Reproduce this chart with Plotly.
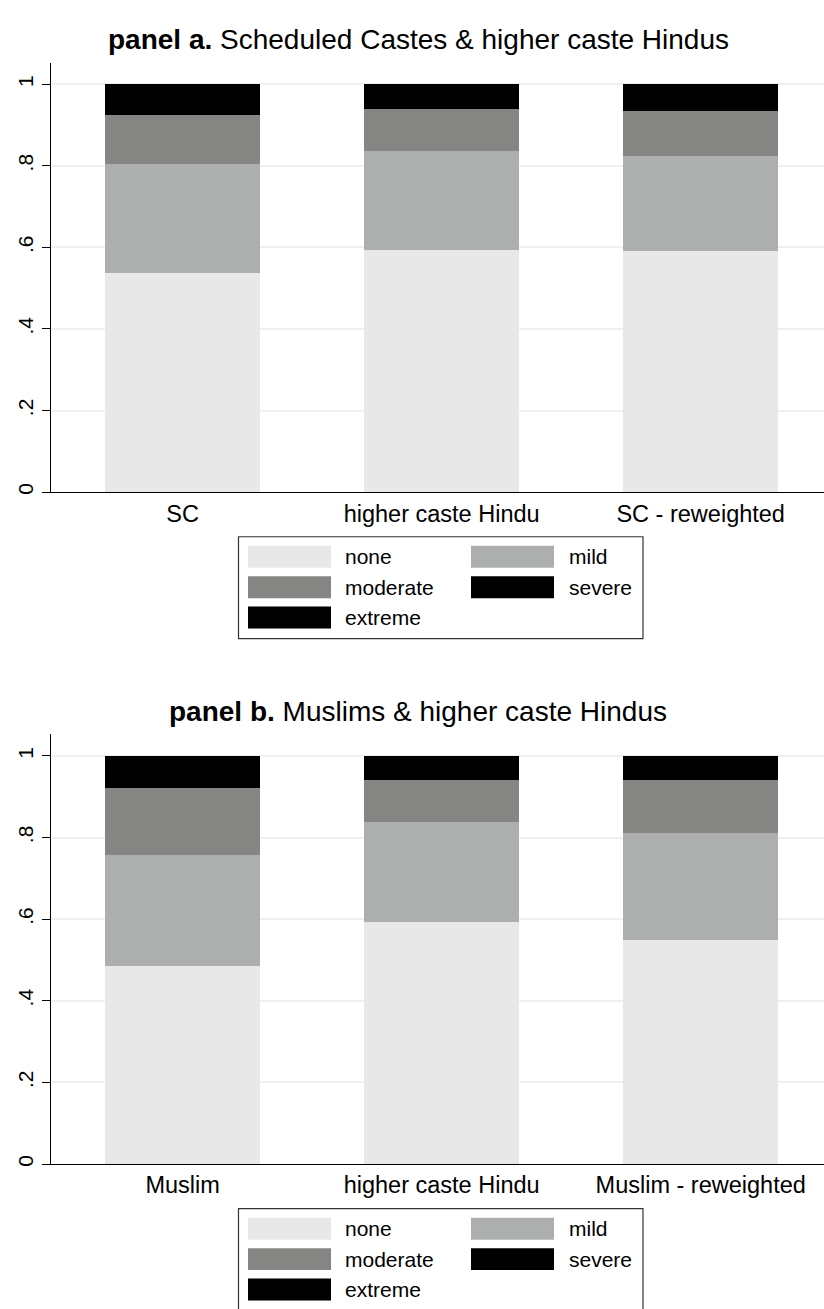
import plotly.graph_objects as go

# ---- data ----
categories_a = ["SC", "higher caste Hindu", "SC - reweighted"]
categories_b = ["Muslim", "higher caste Hindu", "Muslim - reweighted"]
series_names = ["none", "mild", "moderate", "severe", "extreme"]
series_colors = ["#e8e8e8", "#adafae", "#858583", "#000000", "#000000"]

none_a = [0.536, 0.593, 0.590]
mild_a = [0.269, 0.244, 0.235]
moderate_a = [0.120, 0.102, 0.110]
severe_a = [0.060, 0.049, 0.052]
extreme_a = [0.015, 0.012, 0.013]

none_b = [0.486, 0.594, 0.548]
mild_b = [0.271, 0.243, 0.263]
moderate_b = [0.165, 0.103, 0.131]
severe_b = [0.062, 0.048, 0.046]
extreme_b = [0.016, 0.012, 0.012]

ytick_vals = [0, 0.2, 0.4, 0.6, 0.8, 1]
ytick_text = ["0", ".2", ".4", ".6", ".8", "1"]

title_a_bold = "panel a."
title_a_rest = " Scheduled Castes & higher caste Hindus"
title_b_bold = "panel b."
title_b_rest = " Muslims & higher caste Hindus"

# ---- layout helpers ----
W, H = 824, 1309
FONT = "Liberation Sans, Arial, Helvetica, sans-serif"


def px(x):
    return x / W


def py(y):
    return 1 - y / H


fig = go.Figure()

panels = [
    (categories_a, [none_a, mild_a, moderate_a, severe_a, extreme_a], "x", "y"),
    (categories_b, [none_b, mild_b, moderate_b, severe_b, extreme_b], "x2", "y2"),
]
for cats, vals, xa, ya in panels:
    for name, color, v in zip(series_names, series_colors, vals):
        fig.add_trace(go.Bar(
            x=cats, y=v, name=name, marker=dict(color=color, line=dict(width=0)),
            xaxis=xa, yaxis=ya, width=0.6, showlegend=False,
        ))

# panel vertical positions (pixels): plot top, plot bottom
panel_px = [(62.7, 493.3), (736.0, 1166.7)]

common_y = dict(
    range=[0, 1.053], tickvals=ytick_vals, ticktext=ytick_text, tickangle=-90,
    ticks="outside", ticklen=8, tickwidth=1.2, tickcolor="#000000",
    showline=True, linecolor="#000000", linewidth=1.3,
    showgrid=True, gridcolor="#f0f0f0", gridwidth=1.5, zeroline=False,
    tickfont=dict(family=FONT, size=21, color="#000000"), fixedrange=True,
)
common_x = dict(
    range=[-0.508, 2.476], showline=True, linecolor="#000000", linewidth=1.3,
    ticks="", showgrid=False, zeroline=False,
    tickfont=dict(family=FONT, size=23.5, color="#000000"), fixedrange=True,
)

fig.update_layout(
    width=W, height=H, margin=dict(l=0, r=0, t=0, b=0),
    paper_bgcolor="white", plot_bgcolor="white", barmode="stack",
    showlegend=False,
    xaxis=dict(domain=[px(51), 1], anchor="y", **common_x),
    yaxis=dict(domain=[py(panel_px[0][1]), py(panel_px[0][0])], anchor="x", **common_y),
    xaxis2=dict(domain=[px(51), 1], anchor="y2", **common_x),
    yaxis2=dict(domain=[py(panel_px[1][1]), py(panel_px[1][0])], anchor="x2", **common_y),
)

# titles
for (bold, rest), ty in [((title_a_bold, title_a_rest), 40), ((title_b_bold, title_b_rest), 713.5)]:
    fig.add_annotation(
        x=px(418), y=py(ty), xref="paper", yref="paper", showarrow=False,
        text=f"<b>{bold}</b>{rest}", xanchor="center", yanchor="middle",
        font=dict(family=FONT, size=28, color="#000000"),
    )

# legends (drawn as boxes)
for off in [0, 673.5]:
    fig.add_shape(type="rect", xref="paper", yref="paper",
                  x0=px(238.5), x1=px(643), y0=py(538 + off), y1=py(640 + off),
                  line=dict(color="#333333", width=1.2), fillcolor="white")
    for i, (name, color) in enumerate(zip(series_names, series_colors)):
        row, col = divmod(i, 2)
        sx = 248 if col == 0 else 471
        tx = 343 if col == 0 else 567
        cy = 558 + row * 30.5 + off
        fig.add_shape(type="rect", xref="paper", yref="paper",
                      x0=px(sx), x1=px(sx + 83), y0=py(cy - 11), y1=py(cy + 11),
                      line=dict(width=0), fillcolor=color)
        fig.add_annotation(x=px(tx), y=py(cy), xref="paper", yref="paper",
                           showarrow=False, text=name, xanchor="left", yanchor="middle",
                           font=dict(family=FONT, size=21, color="#000000"))

fig.write_html("out.html", config={"displayModeBar": False},
               post_script="document.body.style.margin='0';")
